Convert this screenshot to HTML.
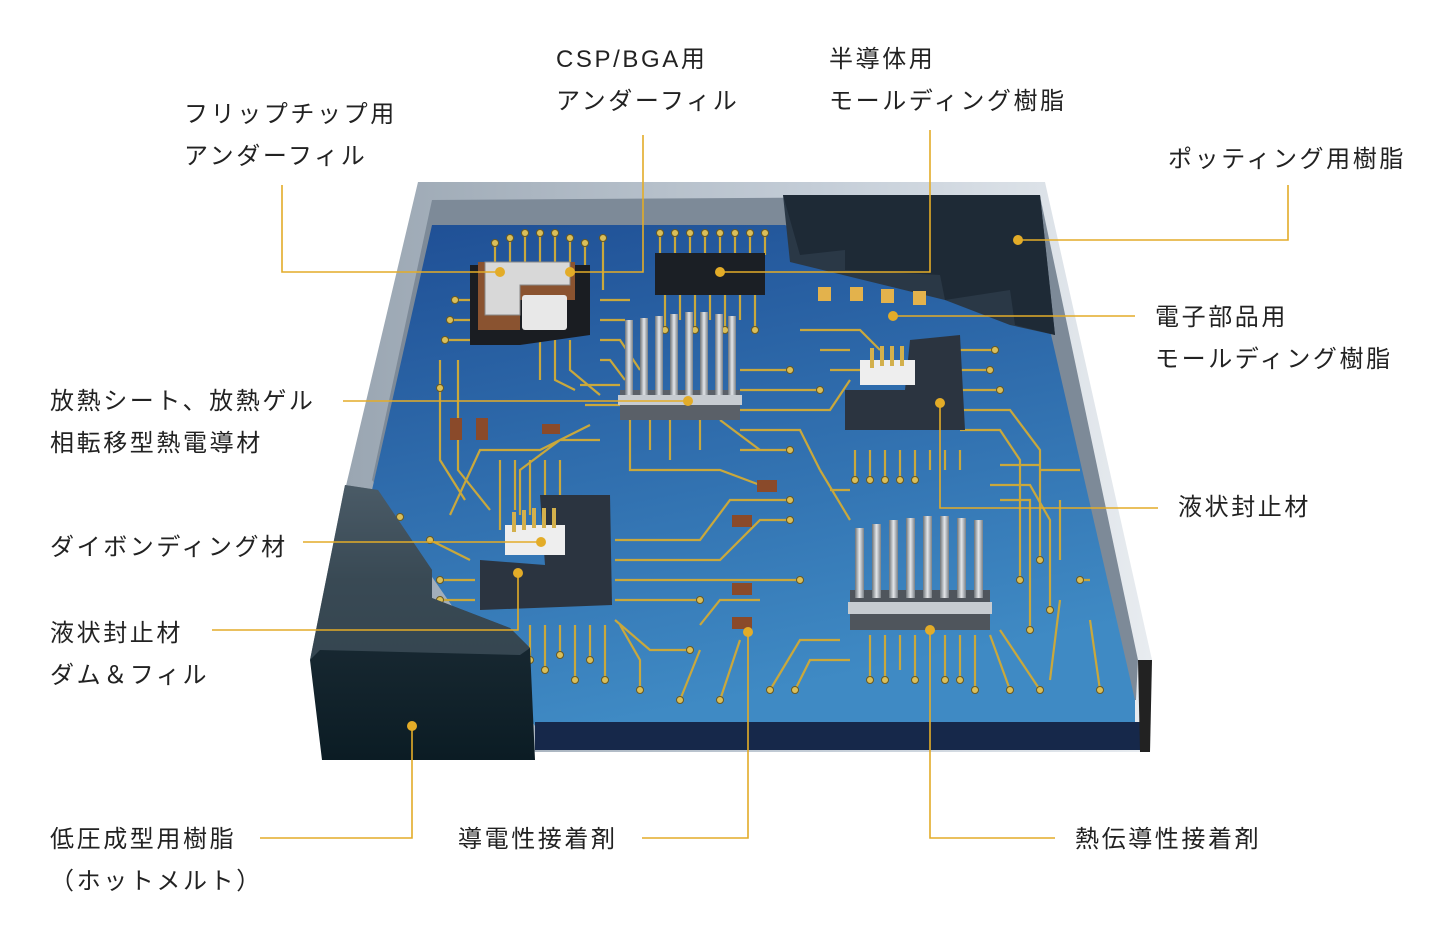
<!DOCTYPE html>
<html><head><meta charset="utf-8"><style>
html,body{margin:0;padding:0;background:#fff;}
svg{display:block}
text{font-family:"Liberation Sans","Noto Sans CJK JP",sans-serif;font-size:24px;fill:#222;letter-spacing:2.6px}
.l{stroke:#e3ac28;stroke-width:1.6;fill:none}
.d{fill:#e3ac28}
.t{stroke:#c9a83c;stroke-width:2.2;fill:none}
.p{fill:#d9bf5a;stroke:#6b5a20;stroke-width:1}
</style></head><body>
<svg width="1456" height="936" viewBox="0 0 1456 936" xmlns="http://www.w3.org/2000/svg">
<defs>
<linearGradient id="tray" x1="0" y1="0" x2="1" y2="0"><stop offset="0" stop-color="#9aa6b2"/><stop offset="0.6" stop-color="#c5ced8"/><stop offset="1" stop-color="#e8ecf0"/></linearGradient>
<linearGradient id="blue" x1="0" y1="0" x2="0.3" y2="1"><stop offset="0" stop-color="#1f4f95"/><stop offset="1" stop-color="#3f8ac4"/></linearGradient>
<linearGradient id="hm" x1="0" y1="0" x2="0" y2="1"><stop offset="0" stop-color="#4a5a66"/><stop offset="0.35" stop-color="#1e2e38"/><stop offset="1" stop-color="#0b1c24"/></linearGradient>
<linearGradient id="hs" x1="0" y1="0" x2="1" y2="0"><stop offset="0" stop-color="#6d7378"/><stop offset="0.5" stop-color="#e4e7ea"/><stop offset="1" stop-color="#7a8086"/></linearGradient>
</defs>
<polygon points="418,182 1045,182 1152,660 1150,752 535,752 345,490" fill="url(#tray)"/>
<polygon points="432,200 1040,196 1138,660 1136,700 540,700 372,480" fill="#7d8a98"/>
<polygon points="432,225 785,225 1050,330 1135,700 1135,726 535,726 372,490" fill="url(#blue)"/>
<polygon points="535,722 1140,722 1140,750 535,750" fill="#16284a"/>
<polygon points="1138,660 1152,660 1150,752 1140,752" fill="#222"/>
<polygon points="783,195 1040,195 1055,335 1010,325 945,300 790,262" fill="#2a3846"/>
<polygon points="783,195 800,255 845,250 845,270 940,275 945,300 1010,290 1015,325 1055,335 1040,195" fill="#1e2a36"/>
<g class="t">
<path d="M495,245 V300 M510,240 V295 M525,235 V290 M540,235 V285 M555,235 V285 M570,240 V285 M585,245 V290 M603,240 V290"/>
<path d="M455,300 H480 M450,320 H478 M445,340 H470 M440,360 V460 L465,500 M458,360 V470 L490,510"/>
<path d="M600,300 H630 M600,320 H625 M600,340 H620 L640,370 M600,360 H610 L625,380"/>
<path d="M540,340 V380 M555,340 V380 L575,390 M570,340 V370 L600,395"/>
<path d="M660,235 V255 M675,235 V255 M690,235 V255 M705,235 V255 M720,235 V255 M735,235 V255 M750,235 V255 M765,235 V255"/>
<path d="M665,295 V330 M680,295 V320 M695,295 V330 M710,295 V320 M725,295 V330 M740,295 V320 M755,295 V330"/>
<path d="M580,385 H620 M585,405 H620 M590,425 L540,450 L480,450 L450,515 M600,440 H560 L520,470 V515"/>
<path d="M740,370 H790 M740,390 H820 M740,410 H830 L850,380 M740,430 H800 L820,470 M740,450 H790"/>
<path d="M800,330 H860 L880,350 M820,350 H850 M830,370 H860"/>
<path d="M960,350 H995 M960,370 H990 M960,390 H1000 M960,410 H1010 L1040,450 V560 M960,430 H1000 L1020,460 V580"/>
<path d="M855,450 V480 M870,450 V480 M885,450 V480 M900,450 V480 M915,450 V480 M930,450 V470 M945,450 V470 M960,450 V470"/>
<path d="M1000,465 H1040 M990,485 H1030 L1050,520 V610 M1000,500 H1030 V630"/>
<path d="M615,540 H700 L730,500 H790 M615,560 H720 L760,520 H790 M615,580 H800 M615,600 H700 M615,620 L650,650 H690"/>
<path d="M530,625 V660 M545,625 V670 M560,625 V655 M575,625 V680 M590,625 V660 M605,625 V680 M620,625 L640,660 V690"/>
<path d="M500,460 V530 M515,460 V510 M530,460 V515 M545,460 V515 M560,460 V515"/>
<path d="M430,540 L470,560 M440,580 H475 M440,600 H475"/>
<path d="M700,625 L720,600 H760 M680,700 L700,650 M720,700 L740,640 M770,690 L800,640 H840 M795,690 L810,660 H850"/>
<path d="M870,635 V680 M885,635 V680 M900,635 V670 M915,635 V680 M945,635 V680 M960,635 V680 M975,635 V690 M990,635 L1010,690 M1000,630 L1040,690 M1050,680 L1060,600"/>
<path d="M630,420 V470 H720 L760,485 M650,420 V450 M670,420 V460 M700,420 V450 M720,420 L760,450"/>
<path d="M820,470 L850,520 M830,490 H850 M1040,470 H1080 M1060,500 V560 M1080,580 H1090 M1090,620 L1100,690"/>
</g>
<g class="p">
<circle cx="495" cy="243" r="3.5"/><circle cx="510" cy="238" r="3.5"/><circle cx="525" cy="233" r="3.5"/><circle cx="540" cy="233" r="3.5"/><circle cx="555" cy="233" r="3.5"/><circle cx="570" cy="238" r="3.5"/><circle cx="585" cy="243" r="3.5"/><circle cx="603" cy="238" r="3.5"/>
<circle cx="455" cy="300" r="3.5"/><circle cx="450" cy="320" r="3.5"/><circle cx="445" cy="340" r="3.5"/><circle cx="440" cy="388" r="3.5"/>
<circle cx="660" cy="233" r="3.5"/><circle cx="675" cy="233" r="3.5"/><circle cx="690" cy="233" r="3.5"/><circle cx="705" cy="233" r="3.5"/><circle cx="720" cy="233" r="3.5"/><circle cx="735" cy="233" r="3.5"/><circle cx="750" cy="233" r="3.5"/><circle cx="765" cy="233" r="3.5"/>
<circle cx="665" cy="330" r="3.5"/><circle cx="695" cy="330" r="3.5"/><circle cx="725" cy="330" r="3.5"/><circle cx="755" cy="330" r="3.5"/>
<circle cx="790" cy="370" r="3.5"/><circle cx="820" cy="390" r="3.5"/><circle cx="790" cy="450" r="3.5"/><circle cx="995" cy="350" r="3.5"/><circle cx="990" cy="370" r="3.5"/><circle cx="1000" cy="390" r="3.5"/>
<circle cx="855" cy="480" r="3.5"/><circle cx="870" cy="480" r="3.5"/><circle cx="885" cy="480" r="3.5"/><circle cx="900" cy="480" r="3.5"/><circle cx="915" cy="480" r="3.5"/>
<circle cx="790" cy="500" r="3.5"/><circle cx="790" cy="520" r="3.5"/><circle cx="800" cy="580" r="3.5"/><circle cx="700" cy="600" r="3.5"/><circle cx="690" cy="650" r="3.5"/>
<circle cx="530" cy="660" r="3.5"/><circle cx="545" cy="670" r="3.5"/><circle cx="560" cy="655" r="3.5"/><circle cx="575" cy="680" r="3.5"/><circle cx="590" cy="660" r="3.5"/><circle cx="605" cy="680" r="3.5"/><circle cx="640" cy="690" r="3.5"/>
<circle cx="680" cy="700" r="3.5"/><circle cx="720" cy="700" r="3.5"/><circle cx="770" cy="690" r="3.5"/><circle cx="795" cy="690" r="3.5"/>
<circle cx="870" cy="680" r="3.5"/><circle cx="885" cy="680" r="3.5"/><circle cx="915" cy="680" r="3.5"/><circle cx="945" cy="680" r="3.5"/><circle cx="960" cy="680" r="3.5"/><circle cx="975" cy="690" r="3.5"/><circle cx="1010" cy="690" r="3.5"/><circle cx="1040" cy="690" r="3.5"/><circle cx="1100" cy="690" r="3.5"/>
<circle cx="400" cy="517" r="3.5"/><circle cx="430" cy="540" r="3.5"/><circle cx="440" cy="580" r="3.5"/><circle cx="440" cy="600" r="3.5"/>
<circle cx="1040" cy="560" r="3.5"/><circle cx="1020" cy="580" r="3.5"/><circle cx="1080" cy="580" r="3.5"/><circle cx="1050" cy="610" r="3.5"/><circle cx="1030" cy="630" r="3.5"/>
</g>
<polygon points="470,265 590,265 590,335 520,345 470,345" fill="#1a1d22"/>
<polygon points="478,262 575,262 575,300 520,300 520,330 478,330" fill="#8a5330"/>
<polygon points="485,262 570,262 570,285 520,285 520,315 485,315" fill="#d8d8d8" stroke="#888"/>
<g fill="#e8e8e8"><rect x="522" y="295" width="45" height="35" rx="3"/></g>
<rect x="655" y="253" width="110" height="42" fill="#1b1f25"/>
<rect x="620" y="390" width="120" height="30" fill="#5a6068"/>
<g fill="url(#hs)"><rect x="625" y="320" width="8" height="75"/><rect x="640" y="318" width="8" height="77"/><rect x="655" y="316" width="8" height="79"/><rect x="670" y="314" width="8" height="81"/><rect x="685" y="312" width="8" height="83"/><rect x="700" y="312" width="8" height="83"/><rect x="715" y="314" width="8" height="81"/><rect x="728" y="316" width="8" height="79"/></g>
<rect x="618" y="395" width="124" height="10" fill="#c7ccd1"/>
<polygon points="845,390 905,390 910,340 960,335 965,430 845,430" fill="#2b3440"/>
<polygon points="860,360 915,360 915,385 860,385" fill="#eee"/>
<polygon points="480,560 545,565 540,495 610,495 612,605 480,610" fill="#2b3440"/>
<polygon points="505,525 565,525 565,555 505,555" fill="#eee"/>
<g fill="#d3b04c"><rect x="512" y="512" width="4" height="20"/><rect x="522" y="510" width="4" height="20"/><rect x="532" y="508" width="4" height="20"/><rect x="542" y="508" width="4" height="20"/><rect x="552" y="508" width="4" height="20"/></g>
<g fill="#d3b04c"><rect x="870" y="348" width="4" height="20"/><rect x="880" y="346" width="4" height="20"/><rect x="890" y="346" width="4" height="20"/><rect x="900" y="346" width="4" height="20"/></g>
<rect x="850" y="590" width="140" height="40" fill="#4f555c"/>
<g fill="url(#hs)"><rect x="855" y="528" width="9" height="70"/><rect x="872" y="524" width="9" height="74"/><rect x="889" y="520" width="9" height="78"/><rect x="906" y="518" width="9" height="80"/><rect x="923" y="516" width="9" height="82"/><rect x="940" y="516" width="9" height="82"/><rect x="957" y="518" width="9" height="80"/><rect x="974" y="520" width="9" height="78"/></g>
<rect x="848" y="602" width="144" height="12" fill="#c7ccd1"/>
<g fill="#e3b24c"><rect x="818" y="287" width="13" height="14"/><rect x="850" y="287" width="13" height="14"/><rect x="881" y="289" width="13" height="14"/><rect x="913" y="291" width="13" height="14"/></g>
<g fill="#8a4a2a"><rect x="450" y="418" width="12" height="22"/><rect x="476" y="418" width="12" height="22"/><rect x="542" y="424" width="18" height="10"/><rect x="757" y="480" width="20" height="12"/><rect x="732" y="515" width="20" height="12"/><rect x="732" y="583" width="20" height="12"/><rect x="732" y="617" width="20" height="12"/></g>
<polygon points="345,485 378,490 432,570 432,598 510,628 530,648 535,760 322,760 310,660" fill="url(#hm)"/>
<polygon points="310,660 345,485 378,490 432,570 432,598 510,628 530,648 520,655 320,650" fill="#4b5b67" opacity="0.6"/>
<g class="l">
<path d="M282,185 V272 H500"/><path d="M643,135 V272 H570"/><path d="M930,130 V272 H720"/>
<path d="M1288,185 V240 H1018"/><path d="M1135,316 H893"/><path d="M343,401 H688"/>
<path d="M1158,508 H940 V403"/><path d="M303,542 H541"/><path d="M212,630 H518 V573"/>
<path d="M260,838 H412 V726"/><path d="M642,838 H748 V632"/><path d="M1055,838 H930 V630"/>
</g>
<g class="d">
<circle cx="500" cy="272" r="5"/><circle cx="570" cy="272" r="5"/><circle cx="720" cy="272" r="5"/><circle cx="1018" cy="240" r="5"/><circle cx="893" cy="316" r="5"/><circle cx="688" cy="401" r="5"/><circle cx="940" cy="403" r="5"/><circle cx="541" cy="542" r="5"/><circle cx="518" cy="573" r="5"/><circle cx="412" cy="726" r="5"/><circle cx="748" cy="632" r="5"/><circle cx="930" cy="630" r="5"/>
</g>
<text x="184" y="122">フリップチップ用</text><text x="184" y="164">アンダーフィル</text>
<text x="556" y="67">CSP/BGA用</text><text x="556" y="109">アンダーフィル</text>
<text x="829" y="67">半導体用</text><text x="829" y="109">モールディング樹脂</text>
<text x="1168" y="167">ポッティング用樹脂</text>
<text x="1155" y="325">電子部品用</text><text x="1155" y="367">モールディング樹脂</text>
<text x="50" y="409">放熱シート、放熱ゲル</text><text x="50" y="451">相転移型熱電導材</text>
<text x="1178" y="515">液状封止材</text>
<text x="50" y="555">ダイボンディング材</text>
<text x="50" y="641">液状封止材</text><text x="50" y="683">ダム＆フィル</text>
<text x="50" y="847">低圧成型用樹脂</text><text x="50" y="889">（ホットメルト）</text>
<text x="458" y="847">導電性接着剤</text>
<text x="1075" y="847">熱伝導性接着剤</text>
</svg>
</body></html>
